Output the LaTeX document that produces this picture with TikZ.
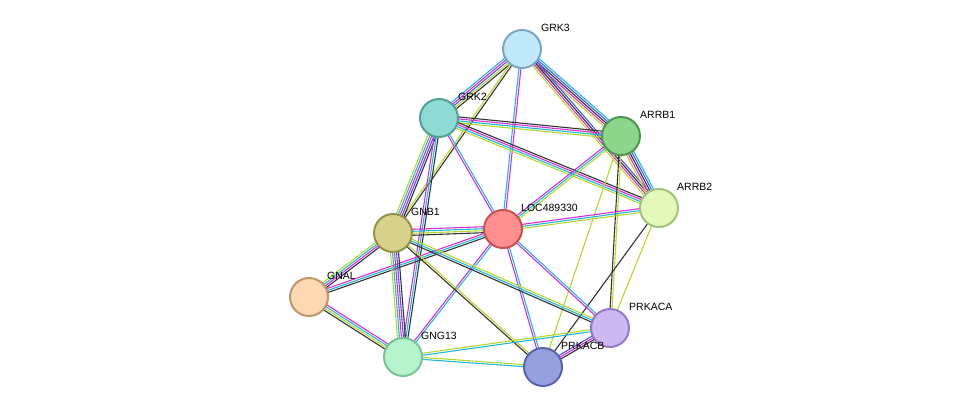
\documentclass[tikz,border=0pt]{standalone}
\usepackage{fontspec}
\setmainfont{Liberation Sans}
\usetikzlibrary{calc}
\definecolor{cy}{HTML}{22B8D8}
\definecolor{mg}{HTML}{D62ED6}
\definecolor{yg}{HTML}{B8D630}
\definecolor{bk}{HTML}{333333}
\definecolor{bl}{HTML}{4A5BE0}
\tikzset{
 prot/.style={circle,minimum size=38pt,inner sep=0pt,line width=2pt},
 lab/.style={font=\fontsize{10.5}{12}\selectfont,anchor=south west,inner sep=1pt}
}
\newcommand{\edg}[4]{%
 \foreach \c [count=\i] in {#3}{%
  \pgfmathsetmacro{\o}{(\i-1)*2-(#4-1)*1}
  \draw[\c,line width=1.1pt] ($(#1)!\o pt!90:(#2)$) -- ($(#2)!\o pt!-90:(#1)$);}}
\begin{document}
\begin{tikzpicture}[x=1pt,y=-1pt]
\useasboundingbox (0,0) rectangle (975,413);
\coordinate (grk3) at (522,49);
\coordinate (grk2) at (439,118);
\coordinate (arrb1) at (621,136);
\coordinate (arrb2) at (659,208);
\coordinate (loc) at (503,229);
\coordinate (gnb1) at (393,233);
\coordinate (gnal) at (309,297);
\coordinate (gng13) at (403,357);
\coordinate (pka) at (610,328);
\coordinate (pkb) at (543,367);
\edg{grk3}{grk2}{cy,mg,bl,yg,bk}{5}
\edg{grk3}{arrb1}{yg,mg,bk,bl,cy}{5}
\edg{grk3}{arrb2}{yg,mg,bk,bl}{4}
\edg{grk3}{loc}{cy,mg}{2}
\edg{grk3}{gnb1}{yg,bk}{2}
\edg{grk2}{arrb1}{yg,cy,mg,bk}{4}
\edg{grk2}{arrb2}{yg,cy,mg,bk}{4}
\edg{grk2}{loc}{mg,cy}{2}
\edg{grk2}{gnb1}{yg,cy,mg,bl,bk}{5}
\edg{grk2}{gng13}{mg,cy,bk}{3}
\edg{arrb1}{arrb2}{yg,mg,bk,bl,cy}{5}
\edg{arrb1}{loc}{mg,cy,yg}{3}
\edg{arrb1}{pka}{bk,yg}{2}
\edg{arrb1}{pkb}{yg}{1}
\edg{arrb2}{loc}{mg,cy,yg}{3}
\edg{arrb2}{pkb}{bk}{1}
\edg{arrb2}{pka}{yg}{1}
\edg{loc}{gnb1}{mg,cy,yg,bk}{4}
\edg{loc}{gnal}{mg,cy,bk}{3}
\edg{loc}{gng13}{mg,cy}{2}
\edg{loc}{pkb}{mg,cy}{2}
\edg{loc}{pka}{mg,cy}{2}
\edg{gnb1}{gnal}{yg,cy,mg,bk}{4}
\edg{gnb1}{gng13}{yg,cy,mg,bl,bk}{5}
\edg{gnb1}{pka}{bk,cy,yg}{3}
\edg{gnb1}{pkb}{bk,yg}{2}
\edg{gnal}{gng13}{bk,yg,cy,mg}{4}
\edg{gng13}{pka}{cy,yg}{2}
\edg{gng13}{pkb}{cy,yg}{2}
\edg{pka}{pkb}{bl,mg,bk}{3}
\node[prot,draw={rgb,255:red,122;green,166;blue,196},fill={rgb,255:red,193;green,231;blue,250}] (n1) at (grk3) {};
\node[prot,draw={rgb,255:red,84;green,160;blue,150},fill={rgb,255:red,143;green,218;blue,210}] (n2) at (grk2) {};
\node[prot,draw={rgb,255:red,80;green,150;blue,80},fill={rgb,255:red,140;green,214;blue,140}] (n3) at (arrb1) {};
\node[prot,draw={rgb,255:red,160;green,196;blue,120},fill={rgb,255:red,228;green,248;blue,188}] (n4) at (arrb2) {};
\node[prot,draw={rgb,255:red,196;green,82;blue,82},fill={rgb,255:red,255;green,142;blue,142}] (n5) at (loc) {};
\node[prot,draw={rgb,255:red,150;green,146;blue,70},fill={rgb,255:red,214;green,210;blue,140}] (n6) at (gnb1) {};
\node[prot,draw={rgb,255:red,190;green,150;blue,110},fill={rgb,255:red,253;green,216;blue,178}] (n7) at (gnal) {};
\node[prot,draw={rgb,255:red,120;green,196;blue,150},fill={rgb,255:red,183;green,244;blue,206}] (n8) at (gng13) {};
\node[prot,draw={rgb,255:red,150;green,120;blue,196},fill={rgb,255:red,206;green,184;blue,244}] (n9) at (pka) {};
\node[prot,draw={rgb,255:red,90;green,100;blue,170},fill={rgb,255:red,150;green,160;blue,222}] (n10) at (pkb) {};
\node[lab] at (540,33) {GRK3};
\node[lab] at (457,102) {GRK2};
\node[lab] at (639,120) {ARRB1};
\node[lab] at (676,192) {ARRB2};
\node[lab] at (520,213) {LOC489330};
\node[lab] at (410,217) {GNB1};
\node[lab] at (326,281) {GNAL};
\node[lab] at (420,341) {GNG13};
\node[lab] at (628,312) {PRKACA};
\node[lab] at (560,351) {PRKACB};
\end{tikzpicture}
\end{document}
